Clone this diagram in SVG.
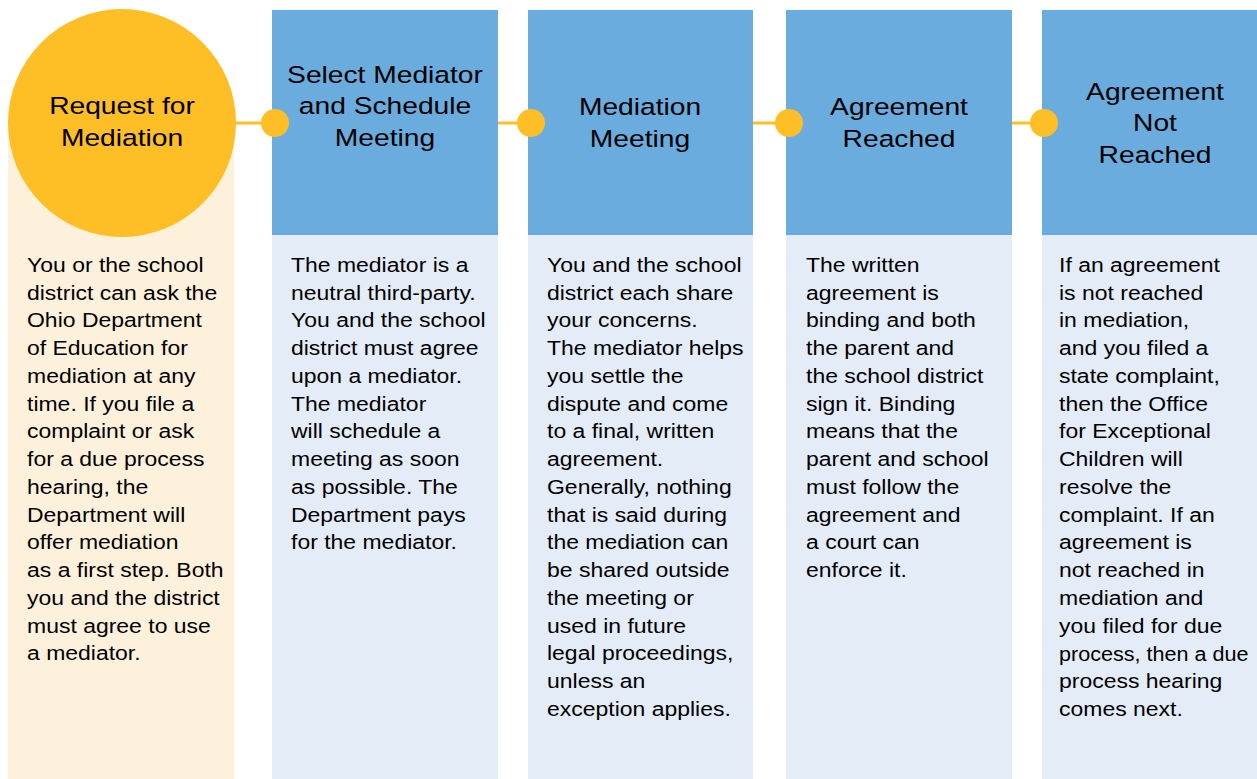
<svg xmlns="http://www.w3.org/2000/svg" width="1257" height="779" viewBox="0 0 1257 779">
<style>
.hdr{fill:#6AACDE}
.body{fill:#E4ECF7}
.peach{fill:#FEF1DC}
.title{font-family:"Liberation Sans",Arial,sans-serif;font-size:23.5px;fill:#000;text-anchor:middle}
.txt{font-family:"Liberation Sans",Arial,sans-serif;font-size:19.8px;fill:#000}
.conn{stroke:#FEBE26;stroke-width:3;fill:none}
.dot{fill:#FEBE26}
</style>
<rect width="1257" height="779" fill="#fff"/>
<g id="connectors">
<line class="conn" x1="234" y1="123" x2="275" y2="123"/>
<line class="conn" x1="498" y1="123" x2="531" y2="123"/>
<line class="conn" x1="753" y1="123" x2="789" y2="123"/>
<line class="conn" x1="1012" y1="123" x2="1044" y2="123"/>
</g>
<g id="node1">
<rect class="peach" x="8" y="123" width="226" height="656"/>
<circle cx="122" cy="123" r="114" fill="#FEBE26"/>
<g transform="translate(122,0) scale(1.2,1)">
<text class="title" x="0" y="114">Request for</text>
<text class="title" x="0" y="146">Mediation</text>
</g>
<text class="txt" transform="translate(27,272) scale(1.16,1)">
<tspan x="0" y="0">You or the school</tspan>
<tspan x="0" dy="27.75">district can ask the</tspan>
<tspan x="0" dy="27.75">Ohio Department</tspan>
<tspan x="0" dy="27.75">of Education for</tspan>
<tspan x="0" dy="27.75">mediation at any</tspan>
<tspan x="0" dy="27.75">time. If you file a</tspan>
<tspan x="0" dy="27.75">complaint or ask</tspan>
<tspan x="0" dy="27.75">for a due process</tspan>
<tspan x="0" dy="27.75">hearing, the</tspan>
<tspan x="0" dy="27.75">Department will</tspan>
<tspan x="0" dy="27.75">offer mediation</tspan>
<tspan x="0" dy="27.75">as a first step. Both</tspan>
<tspan x="0" dy="27.75">you and the district</tspan>
<tspan x="0" dy="27.75">must agree to use</tspan>
<tspan x="0" dy="27.75">a mediator.</tspan>
</text>
</g>
<g id="node2">
<rect class="hdr" x="272" y="10" width="226" height="225"/>
<rect class="body" x="272" y="235" width="226" height="544"/>
<circle class="dot" cx="275" cy="123" r="14"/>
<g transform="translate(385,0) scale(1.2,1)">
<text class="title" x="0" y="83">Select Mediator</text>
<text class="title" x="0" y="114">and Schedule</text>
<text class="title" x="0" y="146">Meeting</text>
</g>
<text class="txt" transform="translate(291,272) scale(1.16,1)">
<tspan x="0" y="0">The mediator is a</tspan>
<tspan x="0" dy="27.75">neutral third-party.</tspan>
<tspan x="0" dy="27.75">You and the school</tspan>
<tspan x="0" dy="27.75">district must agree</tspan>
<tspan x="0" dy="27.75">upon a mediator.</tspan>
<tspan x="0" dy="27.75">The mediator</tspan>
<tspan x="0" dy="27.75">will schedule a</tspan>
<tspan x="0" dy="27.75">meeting as soon</tspan>
<tspan x="0" dy="27.75">as possible. The</tspan>
<tspan x="0" dy="27.75">Department pays</tspan>
<tspan x="0" dy="27.75">for the mediator.</tspan>
</text>
</g>
<g id="node3">
<rect class="hdr" x="528" y="10" width="225" height="225"/>
<rect class="body" x="528" y="235" width="225" height="544"/>
<circle class="dot" cx="531" cy="123" r="14"/>
<g transform="translate(640,0) scale(1.2,1)">
<text class="title" x="0" y="115">Mediation</text>
<text class="title" x="0" y="147">Meeting</text>
</g>
<text class="txt" transform="translate(547,272) scale(1.16,1)">
<tspan x="0" y="0">You and the school</tspan>
<tspan x="0" dy="27.75">district each share</tspan>
<tspan x="0" dy="27.75">your concerns.</tspan>
<tspan x="0" dy="27.75">The mediator helps</tspan>
<tspan x="0" dy="27.75">you settle the</tspan>
<tspan x="0" dy="27.75">dispute and come</tspan>
<tspan x="0" dy="27.75">to a final, written</tspan>
<tspan x="0" dy="27.75">agreement.</tspan>
<tspan x="0" dy="27.75">Generally, nothing</tspan>
<tspan x="0" dy="27.75">that is said during</tspan>
<tspan x="0" dy="27.75">the mediation can</tspan>
<tspan x="0" dy="27.75">be shared outside</tspan>
<tspan x="0" dy="27.75">the meeting or</tspan>
<tspan x="0" dy="27.75">used in future</tspan>
<tspan x="0" dy="27.75">legal proceedings,</tspan>
<tspan x="0" dy="27.75">unless an</tspan>
<tspan x="0" dy="27.75">exception applies.</tspan>
</text>
</g>
<g id="node4">
<rect class="hdr" x="786" y="10" width="226" height="225"/>
<rect class="body" x="786" y="235" width="226" height="544"/>
<circle class="dot" cx="789" cy="123" r="14"/>
<g transform="translate(899,0) scale(1.2,1)">
<text class="title" x="0" y="115">Agreement</text>
<text class="title" x="0" y="147">Reached</text>
</g>
<text class="txt" transform="translate(806,272) scale(1.16,1)">
<tspan x="0" y="0">The written</tspan>
<tspan x="0" dy="27.75">agreement is</tspan>
<tspan x="0" dy="27.75">binding and both</tspan>
<tspan x="0" dy="27.75">the parent and</tspan>
<tspan x="0" dy="27.75">the school district</tspan>
<tspan x="0" dy="27.75">sign it. Binding</tspan>
<tspan x="0" dy="27.75">means that the</tspan>
<tspan x="0" dy="27.75">parent and school</tspan>
<tspan x="0" dy="27.75">must follow the</tspan>
<tspan x="0" dy="27.75">agreement and</tspan>
<tspan x="0" dy="27.75">a court can</tspan>
<tspan x="0" dy="27.75">enforce it.</tspan>
</text>
</g>
<g id="node5">
<rect class="hdr" x="1042" y="10" width="215" height="225"/>
<rect class="body" x="1042" y="235" width="215" height="544"/>
<circle class="dot" cx="1044" cy="123" r="14"/>
<g transform="translate(1155,0) scale(1.2,1)">
<text class="title" x="0" y="100">Agreement</text>
<text class="title" x="0" y="131">Not</text>
<text class="title" x="0" y="163">Reached</text>
</g>
<text class="txt" transform="translate(1059,272) scale(1.16,1)">
<tspan x="0" y="0">If an agreement</tspan>
<tspan x="0" dy="27.75">is not reached</tspan>
<tspan x="0" dy="27.75">in mediation,</tspan>
<tspan x="0" dy="27.75">and you filed a</tspan>
<tspan x="0" dy="27.75">state complaint,</tspan>
<tspan x="0" dy="27.75">then the Office</tspan>
<tspan x="0" dy="27.75">for Exceptional</tspan>
<tspan x="0" dy="27.75">Children will</tspan>
<tspan x="0" dy="27.75">resolve the</tspan>
<tspan x="0" dy="27.75">complaint. If an</tspan>
<tspan x="0" dy="27.75">agreement is</tspan>
<tspan x="0" dy="27.75">not reached in</tspan>
<tspan x="0" dy="27.75">mediation and</tspan>
<tspan x="0" dy="27.75">you filed for due</tspan>
</text>
<text class="txt" transform="translate(1059,660.5) scale(1.09,1)">process, then a due</text>
<text class="txt" transform="translate(1059,688.25) scale(1.16,1)">
<tspan x="0" y="0">process hearing</tspan>
<tspan x="0" dy="27.75">comes next.</tspan>
</text>
</g>
</svg>
